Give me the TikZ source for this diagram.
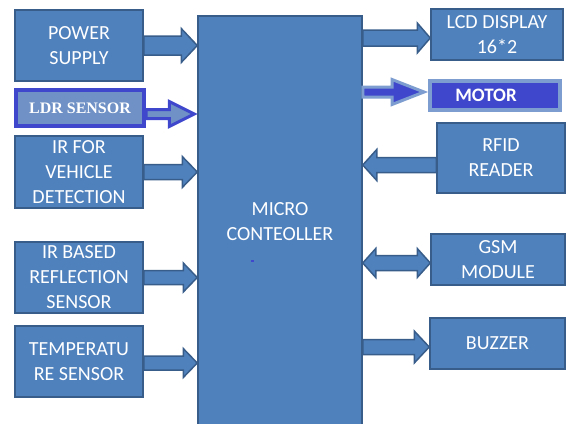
\documentclass[tikz,border=0pt]{standalone}
\usepackage{fontspec}
\setmainfont{Carlito}
\newfontfamily\ldrfont{Liberation Serif}
\usepackage{xcolor}
\usetikzlibrary{calc}
\definecolor{boxfill}{HTML}{4F81BD}
\definecolor{boxline}{HTML}{385D8A}
\definecolor{ldrblue}{HTML}{3F48CC}
\definecolor{ldrfill}{HTML}{6F91C6}
\definecolor{motline}{HTML}{7D9DD0}
% block arrow: [style]{from}{to}{shaft half}{head half}{head length}
\newcommand{\blkarrow}[6][]{%
 \draw[blkstyle,#1] let \p1=#2, \p2=#3, \n1={\x2>\x1} in
 (\x1,{\y1+#4}) -- ({\x2-(2*\n1-1)*#6},{\y1+#4}) -- ({\x2-(2*\n1-1)*#6},{\y1+#5}) -- (\x2,\y1)
 -- ({\x2-(2*\n1-1)*#6},{\y1-#5}) -- ({\x2-(2*\n1-1)*#6},{\y1-#4}) -- (\x1,{\y1-#4}) -- cycle;}
\newcommand{\dblarrow}[6][]{%
 \draw[blkstyle,#1] let \p1=#2, \p2=#3 in
 (\x1,\y1) -- ({\x1+#6},{\y1+#5}) -- ({\x1+#6},{\y1+#4}) -- ({\x2-#6},{\y1+#4}) -- ({\x2-#6},{\y1+#5}) -- (\x2,\y1)
 -- ({\x2-#6},{\y1-#5}) -- ({\x2-#6},{\y1-#4}) -- ({\x1+#6},{\y1-#4}) -- ({\x1+#6},{\y1-#5}) -- cycle;}

\begin{document}
\begin{tikzpicture}[x=0.5pt,y=-0.5pt,font=\fontsize{10}{12.5}\selectfont,
 blk/.style={draw=boxline,fill=boxfill,line width=0.75pt,text=white,align=center,inner sep=0pt},
 blkstyle/.style={draw=boxline,fill=boxfill,line width=0.75pt,line join=miter},
 ldrarrow/.style={draw=ldrblue,fill=ldrfill,line width=1.5pt},
 motarrow/.style={draw=motline,fill=ldrblue,line width=1.5pt}]
\useasboundingbox (0,0) rectangle (566,423);
\clip (0,0) rectangle (566,423);
% inputs
\node[blk,minimum width=64pt,minimum height=35.5pt] (pow) at (79,45.5) {POWER\\SUPPLY};
\node[blk,draw=ldrblue,fill=ldrfill,line width=2pt,minimum width=64pt,minimum height=18pt,
 font=\ldrfont\bfseries\fontsize{8}{10}\selectfont] (ldr) at (80,108) {LDR SENSOR};
\node[blk,minimum width=64pt,minimum height=36pt] (irv) at (79,172) {IR FOR\\VEHICLE\\DETECTION};
\node[blk,minimum width=64pt,minimum height=35.5pt] (irb) at (79,277.5) {IR BASED\\REFLECTION\\SENSOR};
\node[blk,minimum width=64pt,minimum height=35.5pt] (tmp) at (79,361.5) {TEMPERATU\\RE SENSOR};
% controller
\node[blk,minimum width=82pt,minimum height=206pt] (mcu) at (280,222) {MICRO\\CONTEOLLER};
% outputs
\node[blk,minimum width=66pt,minimum height=25.5pt] (lcd) at (497,34.5) {LCD DISPLAY\\16*2};
\node[blk,draw=motline,fill=ldrblue,line width=2pt,minimum width=65pt,minimum height=14.5pt,
 font=\bfseries\fontsize{9.5}{11}\selectfont] (motor) at (495,95.5) {MOTOR\hspace*{9pt}};
\node[blk,minimum width=64pt,minimum height=35pt] (rfid) at (501,158) {RFID\\READER};
\node[blk,minimum width=67pt,minimum height=25.5pt] (gsm) at (498,259.5) {GSM\\MODULE};
\node[blk,minimum width=67.5pt,minimum height=25.5pt] (buz) at (497.5,343.5) {BUZZER};
% arrows
\blkarrow{(pow.east)}{(mcu.west |- pow.east)}{4.75pt}{8.5pt}{8pt}
\blkarrow[ldrarrow]{($(ldr.east)+(0,6)$)}{($(mcu.west |- ldr.east)+(-3,6)$)}{2.25pt}{6.25pt}{12.5pt}
\blkarrow{(irv.east)}{(mcu.west |- irv.east)}{3.75pt}{7.75pt}{7.5pt}
\blkarrow{(irb.east)}{(mcu.west |- irb.east)}{3.5pt}{7.25pt}{7pt}
\blkarrow{($(tmp.east)+(0,1.5)$)}{($(mcu.west |- tmp.east)+(0,1.5)$)}{3.5pt}{7.25pt}{7pt}
\blkarrow{($(mcu.east |- lcd.west)+(0,3.5)$)}{($(lcd.west)+(0,3.5)$)}{4pt}{7.5pt}{6.5pt}
\blkarrow[motarrow]{($(mcu.east |- motor.west)+(0,-3.5)$)}{($(motor.west)+(-4,-3.5)$)}{2.5pt}{6.25pt}{16pt}
\blkarrow{($(rfid.west)+(0,7)$)}{($(mcu.east |- rfid.west)+(0,7)$)}{3.75pt}{7.75pt}{7pt}
\dblarrow{($(mcu.east |- gsm.west)+(0,3.5)$)}{($(gsm.west)+(0,3.5)$)}{3.75pt}{7.25pt}{6.5pt}
\blkarrow{($(mcu.east |- buz.west)+(0,3.5)$)}{($(buz.west)+(0,3.5)$)}{3.75pt}{8pt}{7.5pt}
\fill[ldrblue] (251,260) rectangle (254,262);
\end{tikzpicture}
\end{document}
